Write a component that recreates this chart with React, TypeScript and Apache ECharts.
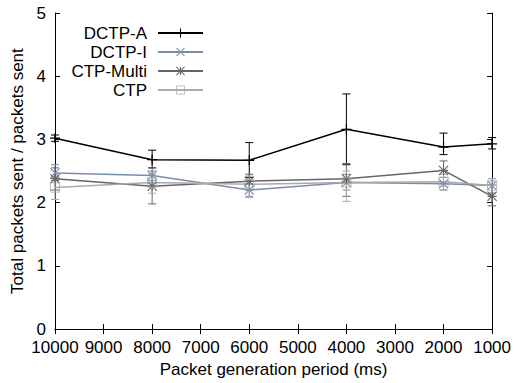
import React, { useEffect, useRef } from 'react';
import * as echarts from 'echarts';

const periods = [10000, 8000, 6000, 4000, 2000, 1000];
const xTicks = [10000, 9000, 8000, 7000, 6000, 5000, 4000, 3000, 2000, 1000];
const yTicks = [0, 1, 2, 3, 4, 5];

const seriesNames = ['DCTP-A', 'DCTP-I', 'CTP-Multi', 'CTP'];

const dctpA = [3.02, 2.68, 2.67, 3.16, 2.88, 2.93];
const dctpALow = [2.97, 2.55, 2.4, 2.6, 2.76, 2.85];
const dctpAHigh = [3.07, 2.83, 2.95, 3.72, 3.1, 3.03];

const dctpI = [2.47, 2.43, 2.2, 2.32, 2.3, 2.27];
const dctpILow = [2.35, 2.35, 2.1, 2.2, 2.2, 2.15];
const dctpIHigh = [2.6, 2.5, 2.3, 2.45, 2.4, 2.38];

const ctpMulti = [2.38, 2.26, 2.34, 2.38, 2.51, 2.1];
const ctpMultiLow = [2.2, 1.98, 2.2, 2.1, 2.3, 1.95];
const ctpMultiHigh = [2.55, 2.55, 2.45, 2.62, 2.66, 2.28];

const ctp = [2.24, 2.32, 2.29, 2.32, 2.33, 2.27];
const ctpLow = [2.05, 2.15, 2.08, 2.02, 2.2, 2.15];
const ctpHigh = [2.4, 2.45, 2.42, 2.5, 2.45, 2.38];

const colors = ['#000000', '#7a8ea8', '#666666', '#aaaaaa'];

const PLUS = 'path://M-5,-0.6H5V0.6H-5Z M-0.6,-5H0.6V5H-0.6Z';
const CROSS =
  'path://M-5.42,-4.58L4.58,5.42L5.42,4.58L-4.58,-5.42Z M-5.42,4.58L-4.58,5.42L5.42,-4.58L4.58,-5.42Z';
const STAR =
  'path://M-5,-0.6H5V0.6H-5Z M-0.6,-5H0.6V5H-0.6Z M-4.58,-5.42L5.42,4.58L4.58,5.42L-5.42,-4.58Z M4.58,-5.42L5.42,-4.58L-4.58,5.42L-5.42,4.58Z';
const SQUARE = 'path://M-5,-5H5V5H-5Z M-4.2,-4.2V4.2H4.2V-4.2Z';
const symbols = [PLUS, CROSS, STAR, SQUARE];

const FONT = "'Liberation Sans', Arial, sans-serif";
const FS = 17;

export default function App() {
  const ref = useRef<HTMLDivElement>(null);
  useEffect(() => {
    document.body.style.margin = '0';
    if (!ref.current) return;
    const chart = echarts.init(ref.current, undefined, { renderer: 'svg' });
    const means = [dctpA, dctpI, ctpMulti, ctp];
    const lows = [dctpALow, dctpILow, ctpMultiLow, ctpLow];
    const highs = [dctpAHigh, dctpIHigh, ctpMultiHigh, ctpHigh];

    const series: any[] = [];
    seriesNames.forEach((name, k) => {
      const color = colors[k];
      series.push({
        name: name + ' err',
        type: 'custom',
        xAxisIndex: 0,
        yAxisIndex: 0,
        encode: { x: 0, y: [1, 2] },
        data: periods.map((p, i) => [p, lows[k][i], highs[k][i]]),
        renderItem: (params: any, api: any) => {
          const x = api.value(0);
          const lo = api.coord([x, api.value(1)]);
          const hi = api.coord([x, api.value(2)]);
          const w = 4;
          const style = { stroke: color, lineWidth: 1 };
          return {
            type: 'group',
            children: [
              { type: 'line', shape: { x1: lo[0], y1: lo[1], x2: hi[0], y2: hi[1] }, style },
              { type: 'line', shape: { x1: lo[0] - w, y1: lo[1], x2: lo[0] + w, y2: lo[1] }, style },
              { type: 'line', shape: { x1: hi[0] - w, y1: hi[1], x2: hi[0] + w, y2: hi[1] }, style },
            ],
          };
        },
      });
      series.push({
        name,
        type: 'line',
        xAxisIndex: 0,
        yAxisIndex: 0,
        data: periods.map((p, i) => [p, means[k][i]]),
        symbol: symbols[k],
        symbolSize: 10,
        showAllSymbol: true,
        lineStyle: { color, width: 1.5 },
        itemStyle: { color },
      });
    });

    const legendCenters = [30, 49, 68, 87];
    const legends = seriesNames.map((name, k) => ({
      data: [name],
      right: 310,
      top: legendCenters[k] - 5.5,
      align: 'right',
      orient: 'vertical',
      itemWidth: 45,
      itemHeight: 11,
      padding: 0,
      textStyle: { fontFamily: FONT, fontSize: FS, color: '#000', padding: [0, 6, 0, 0] },
    }));

    const tickStyle = { inside: true, length: 5, lineStyle: { color: '#000', width: 1 } };
    const axisLine = { show: true, lineStyle: { color: '#000', width: 1 } };

    chart.setOption({
      animation: false,
      backgroundColor: '#ffffff',
      grid: { left: 55, right: 21, top: 13, bottom: 50, containLabel: false },
      legend: legends,
      xAxis: [
        {
          type: 'value',
          min: 1000,
          max: 10000,
          interval: 1000,
          inverse: true,
          position: 'bottom',
          name: 'Packet generation period (ms)',
          nameLocation: 'middle',
          nameGap: 30,
          nameTextStyle: { fontFamily: FONT, fontSize: FS, color: '#000' },
          axisLine,
          axisTick: tickStyle,
          splitLine: { show: false },
          axisLabel: {
            fontFamily: FONT,
            fontSize: FS,
            color: '#000',
            margin: 10,
            showMinLabel: true,
            showMaxLabel: true,
            formatter: (v: number) => String(v),
          },
        },
        {
          type: 'value',
          min: 1000,
          max: 10000,
          interval: 1000,
          inverse: true,
          position: 'top',
          axisLine,
          axisTick: tickStyle,
          splitLine: { show: false },
          axisLabel: { show: false },
        },
      ],
      yAxis: [
        {
          type: 'value',
          min: 0,
          max: 5,
          interval: 1,
          position: 'left',
          name: 'Total packets sent / packets sent',
          nameLocation: 'middle',
          nameGap: 28,
          nameTextStyle: { fontFamily: FONT, fontSize: FS, color: '#000' },
          axisLine,
          axisTick: tickStyle,
          splitLine: { show: false },
          axisLabel: { fontFamily: FONT, fontSize: FS, color: '#000', margin: 9, formatter: (v: number) => String(v) },
        },
        {
          type: 'value',
          min: 0,
          max: 5,
          interval: 1,
          position: 'right',
          axisLine,
          axisTick: tickStyle,
          splitLine: { show: false },
          axisLabel: { show: false },
        },
      ],
      series,
    });
    return () => chart.dispose();
  }, []);
  return <div ref={ref} style={{ width: 514, height: 383 }} />;
}
